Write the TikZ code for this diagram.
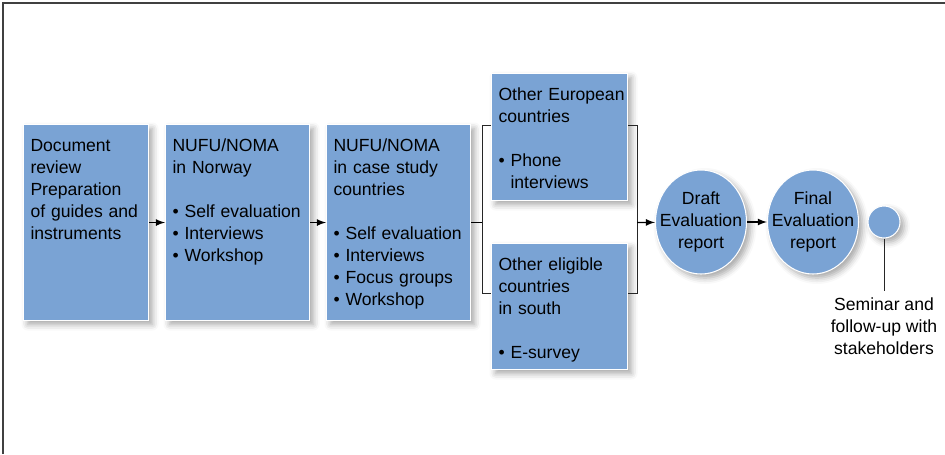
\documentclass[tikz,border=0pt]{standalone}
\usepackage{fontspec}
\setmainfont{Liberation Sans}
\usetikzlibrary{shapes.geometric,shadows.blur,arrows}

\definecolor{stageblue}{RGB}{122,163,212}

\begin{document}
\begin{tikzpicture}[
	font=\fontsize{10}{12.5}\selectfont,
	soft/.style={blur shadow={shadow xshift=0.08cm, shadow yshift=-0.08cm, shadow blur radius=0.12cm, shadow opacity=35}},
	stage/.style={soft, draw=white, line width=0.6pt, fill=stageblue, anchor=north west, inner xsep=0.14cm, inner ysep=0.14cm, text height=0.4cm, align=left},
	report/.style={soft, ellipse, draw=white, line width=0.6pt, fill=stageblue, minimum width=1.82cm, minimum height=2.08cm, inner xsep=-0.2cm, inner ysep=0pt, align=center},
	link/.style={line width=0.8pt, ->, >=latex},
	bracket/.style={line width=0.5pt, black!85}
]
	\useasboundingbox (0, 0) rectangle (18.9, 9.08);
	\draw[line width=1pt, black!75] (0.06, 0) -- (0.06, 9.02) -- (18.9, 9.02);

	% stages of the evaluation
	\node[stage, text width=2.22cm, text depth=3.24cm] (doc) at (0.46, 6.6) {Document\\review\\Preparation\\of guides and\\instruments};
	\node[stage, text width=2.6cm, text depth=3.24cm] (norway) at (3.3, 6.6) {NUFU/NOMA\\in Norway\\[12.5pt]\textbullet\ Self evaluation\\\textbullet\ Interviews\\\textbullet\ Workshop};
	\node[stage, text width=2.6cm, text depth=3.24cm] (case) at (6.52, 6.6) {NUFU/NOMA\\in case study\\countries\\[12.5pt]\textbullet\ Self evaluation\\\textbullet\ Interviews\\\textbullet\ Focus groups\\\textbullet\ Workshop};
	\node[stage, text width=2.44cm, text depth=1.86cm] (eur) at (9.82, 7.62) {\mbox{Other European}\\countries\\[12.5pt]\textbullet\ Phone\\\hphantom{\textbullet\ }interviews};
	\node[stage, text width=2.44cm, text depth=1.84cm] (eligible) at (9.82, 4.22) {Other eligible\\countries\\in south\\[12.5pt]\textbullet\ E-survey};

	\node[report] (draft) at (14.02, 4.64) {Draft\\Evaluation\\report};
	\node[report] (final) at (16.26, 4.64) {Final\\Evaluation\\report};
	\node[soft, circle, draw=white, line width=0.6pt, fill=stageblue, minimum size=0.64cm, inner sep=0pt] (dot) at (17.68, 4.64) {};
	\node[align=center] (seminar) at (17.68, 2.56) {Seminar and\\follow-up with\\stakeholders};

	\draw[link] (doc) -- (norway);
	\draw[link] (norway) -- (case);

	% split to the two country groups and join again
	\coordinate (split) at ([xshift=0.22cm]case.east);
	\coordinate (merge) at ([xshift=0.18cm]eur.east |- split);
	\draw[line width=0.8pt] (case) -- (split);
	\draw[bracket] ([yshift=0.24cm]eur.west) -| (split) |- ([yshift=0.26cm]eligible.west);
	\draw[bracket] ([yshift=0.24cm]eur.east) -| (merge) |- ([yshift=0.26cm]eligible.east);
	\draw[link] (merge) -- (draft);
	\draw[link] (draft) -- (final);
	\draw[bracket] (dot) -- (seminar);
\end{tikzpicture}
\end{document}
